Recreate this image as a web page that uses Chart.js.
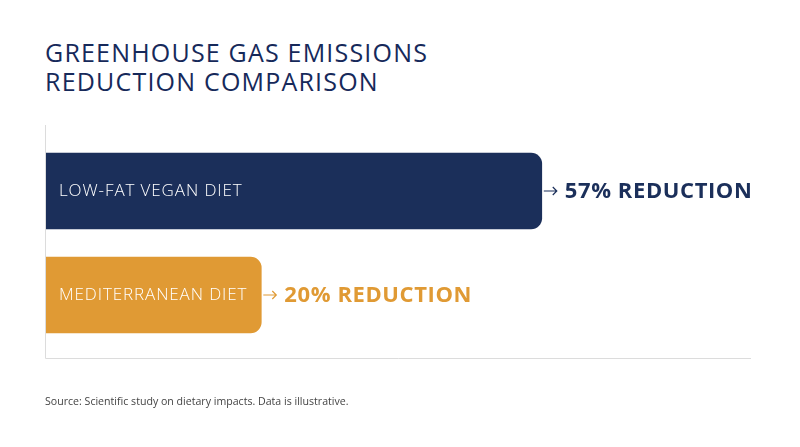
<!DOCTYPE html>
<html>
<head>
<meta charset="utf-8">
<script src="https://cdn.jsdelivr.net/npm/chart.js@4"></script>
<style>
  html, body { margin: 0; padding: 0; background: #fff; }
  body { width: 800px; height: 447px; position: relative; overflow: hidden; font-family: "Open Sans", sans-serif; }
  #title { position: absolute; left: 45px; top: 38px; color: #16295a; font-size: 25px; line-height: 29px; font-weight: 500; letter-spacing: 1.2px; }
  #source { position: absolute; left: 45px; top: 394px; color: #444; font-size: 10.6px; }
  #chart { position: absolute; left: 0; top: 0; }
</style>
</head>
<body>
<div id="title">GREENHOUSE GAS EMISSIONS<br>REDUCTION COMPARISON</div>
<canvas id="chart" width="800" height="447"></canvas>
<div id="source">Source: Scientific study on dietary impacts. Data is illustrative.</div>
<script>
const categories = ["LOW-FAT VEGAN DIET", "MEDITERRANEAN DIET"];
const reductions = [57, 20];
const valueLabels = ["57% REDUCTION", "20% REDUCTION"];
const barColors = ["#1b2f5a", "#e09a34"];

const xMin = -8.4;
const xMax = 84.6;

const axisLines = {
  id: "axisLines",
  beforeDatasetsDraw(chart) {
    const { ctx, chartArea } = chart;
    ctx.save();
    ctx.strokeStyle = "#dcdcdc";
    ctx.lineWidth = 1;
    ctx.beginPath();
    ctx.moveTo(chartArea.left - 0.5, chartArea.top - 14);
    ctx.lineTo(chartArea.left - 0.5, chartArea.bottom + 11.5);
    ctx.lineTo(chartArea.right, chartArea.bottom + 11.5);
    ctx.stroke();
    ctx.restore();
  }
};

const barLabels = {
  id: "barLabels",
  afterDatasetsDraw(chart) {
    const { ctx } = chart;
    const meta = chart.getDatasetMeta(0);
    ctx.save();
    ctx.textBaseline = "middle";
    ctx.textAlign = "left";
    meta.data.forEach((bar, i) => {
      const y = bar.y;
      // name inside the bar
      ctx.fillStyle = "#ffffff";
      ctx.font = "300 17px 'Open Sans'";
      ctx.letterSpacing = "0.9px";
      ctx.fillText(categories[i], bar.base + 13, y);
      // arrow
      ctx.strokeStyle = barColors[i];
      ctx.lineWidth = 1.2;
      const ax = bar.x + 2;
      ctx.beginPath();
      ctx.moveTo(ax, y);
      ctx.lineTo(ax + 13, y);
      ctx.moveTo(ax + 9, y - 4);
      ctx.lineTo(ax + 13, y);
      ctx.lineTo(ax + 9, y + 4);
      ctx.stroke();
      // value label
      ctx.fillStyle = barColors[i];
      ctx.font = "bold 22px 'Open Sans'";
      ctx.letterSpacing = "0.6px";
      ctx.fillText(valueLabels[i], ax + 21, y + 1);
    });
    ctx.restore();
  }
};

new Chart(document.getElementById("chart"), {
  type: "bar",
  data: {
    labels: categories,
    datasets: [{
      data: reductions,
      base: xMin,
      backgroundColor: barColors,
      barThickness: 76,
      borderSkipped: "start",
      borderRadius: { topRight: 11, bottomRight: 11, topLeft: 0, bottomLeft: 0 }
    }]
  },
  options: {
    indexAxis: "y",
    responsive: false,
    animation: false,
    layout: { padding: { left: 46, right: 49, top: 139, bottom: 100 } },
    plugins: { legend: { display: false }, tooltip: { enabled: false } },
    scales: {
      x: { display: false, min: xMin, max: xMax },
      y: { display: false, offset: true }
    }
  },
  plugins: [axisLines, barLabels]
});
</script>
</body>
</html>
